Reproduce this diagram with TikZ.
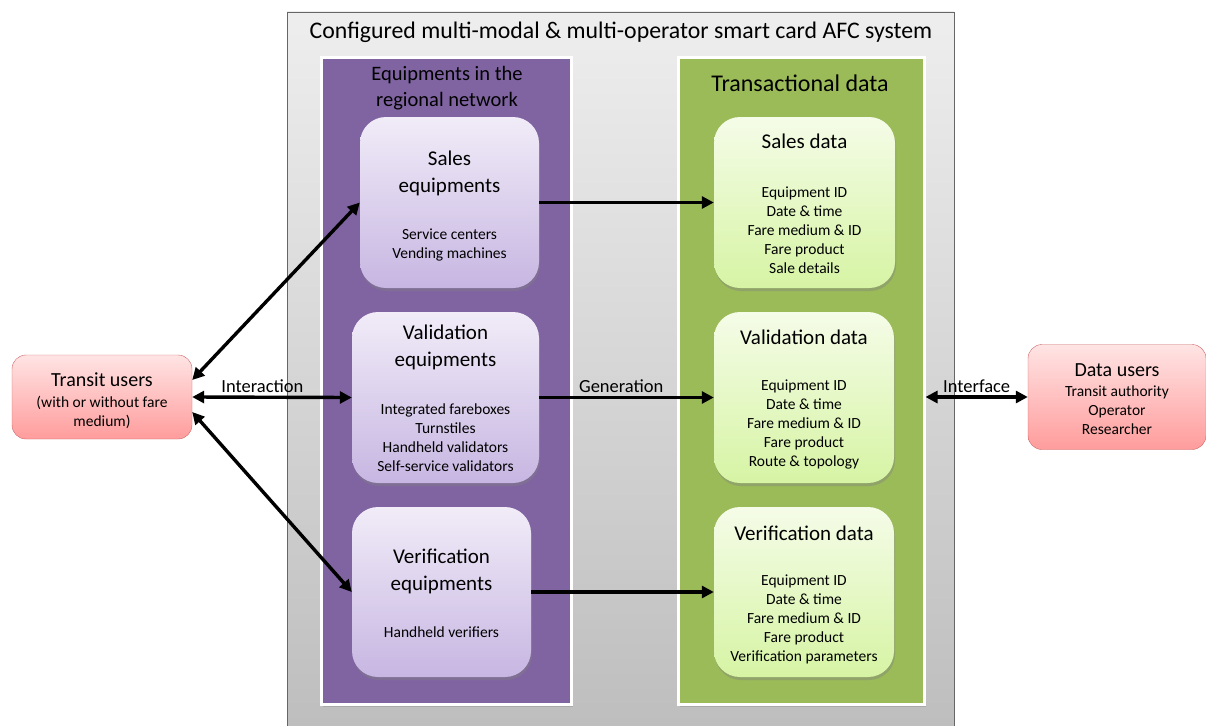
\documentclass[tikz,border=0pt]{standalone}
\usepackage{fontspec}
\setmainfont{Carlito}
\usetikzlibrary{arrows.meta,shadows}

\definecolor{outertop}{HTML}{EEEEEE}
\definecolor{outerbot}{HTML}{BDBDBD}
\definecolor{panelpurple}{HTML}{8064A2}
\definecolor{panelgreen}{HTML}{9BBB59}
\definecolor{eqtop}{HTML}{F1ECF8}
\definecolor{eqbot}{HTML}{C7B6E2}
\definecolor{datatop}{HTML}{F5FCE8}
\definecolor{databot}{HTML}{D6F4A4}
\definecolor{usertop}{HTML}{FFE4E4}
\definecolor{userbot}{HTML}{FF9C9C}
\definecolor{userline}{HTML}{CC6666}

\begin{document}
\begin{tikzpicture}[x=1pt, y=-1pt,
    panel/.style={draw=white, line width=3pt, inner sep=0pt,
      drop shadow={shadow xshift=1.5pt, shadow yshift=-2.5pt, opacity=0.35}},
    eqbox/.style={rounded corners=26pt, top color=eqtop, bottom color=eqbot,
      inner sep=0pt, drop shadow={shadow xshift=1pt, shadow yshift=-3pt, opacity=0.4}},
    databox/.style={eqbox, top color=datatop, bottom color=databot},
    userbox/.style={rounded corners=14pt, draw=userline, thin, top color=usertop,
      bottom color=userbot, inner sep=0pt},
    boxtitle/.style={align=center, font=\fontsize{21}{27}\selectfont},
    boxitems/.style={align=center, font=\fontsize{15.5}{19}\selectfont},
    link/.style={line width=3.4pt, {Triangle[length=12pt,width=12pt]}-{Triangle[length=12pt,width=12pt]}},
    flow/.style={line width=3.4pt, -{Triangle[length=12pt,width=12pt]}},
    linklabel/.style={above, inner sep=3pt, font=\fontsize{18.5}{21}\selectfont}]

  \useasboundingbox (0,0) rectangle (1206,725);

  % outer system frame
  \draw[draw=black!60, top color=outertop, bottom color=outerbot] (287,12) rectangle (954,740);
  \node[font=\fontsize{23.8}{28}\selectfont] (systitle) at (621,32)
    {Configured multi-modal \& multi-operator smart card AFC system};

  % the two panels
  \node[panel, fill=panelpurple, minimum width=250pt, minimum height=646pt] (eqpanel) at (446,381) {};
  \node[panel, fill=panelgreen, minimum width=246pt, minimum height=646pt] (datapanel) at (801,381) {};
  \node[align=center, font=\fontsize{20.5}{26}\selectfont] (eqhead) at (447,88) {Equipments in the\\regional network};
  \node[font=\fontsize{24}{28}\selectfont] (datahead) at (800,83) {Transactional data};

  % equipments
  \node[eqbox, minimum width=179pt, minimum height=171pt] (saleq) at (449.5,202.5) {};
  \node[boxtitle] at ([yshift=-56.5pt]saleq.north) {Sales\\equipments};
  \node[boxitems] at ([yshift=-128pt]saleq.north) {Service centers\\Vending machines};

  \node[eqbox, minimum width=187pt, minimum height=171pt] (valeq) at (445.5,397.5) {};
  \node[boxtitle] at ([yshift=-35.5pt]valeq.north) {Validation\\equipments};
  \node[boxitems] at ([yshift=-126pt]valeq.north)
    {Integrated fareboxes\\Turnstiles\\Handheld validators\\Self-service validators};

  \node[eqbox, minimum width=179pt, minimum height=170pt] (vereq) at (441.5,592) {};
  \node[boxtitle] at ([yshift=-64.5pt]vereq.north) {Verification\\equipments};
  \node[boxitems] at ([yshift=-125pt]vereq.north) {Handheld verifiers};

  % transactional data
  \node[databox, minimum width=181pt, minimum height=171pt] (saldata) at (804.5,202.5) {};
  \node[boxtitle] at ([yshift=-24.5pt]saldata.north) {Sales data};
  \node[boxitems] at ([yshift=-113pt]saldata.north)
    {Equipment ID\\Date \& time\\Fare medium \& ID\\Fare product\\Sale details};

  \node[databox, minimum width=180pt, minimum height=171pt] (valdata) at (804,397.5) {};
  \node[boxtitle] at ([yshift=-25.5pt]valdata.north) {Validation data};
  \node[boxitems] at ([yshift=-113pt]valdata.north)
    {Equipment ID\\Date \& time\\Fare medium \& ID\\Fare product\\Route \& topology};

  \node[databox, minimum width=180pt, minimum height=170pt] (verdata) at (804,592) {};
  \node[boxtitle] at ([yshift=-26pt]verdata.north) {Verification data};
  \node[boxitems] at ([yshift=-113pt]verdata.north)
    {Equipment ID\\Date \& time\\Fare medium \& ID\\Fare product\\Verification parameters};

  % users
  \node[userbox, minimum width=180pt, minimum height=84pt] (tu) at (102,397) {};
  \node[font=\fontsize{20}{23}\selectfont] at ([yshift=17pt]tu.center) {Transit users};
  \node[boxitems] at ([yshift=-15.5pt]tu.center) {(with or without fare\\medium)};

  \node[userbox, minimum width=178pt, minimum height=105pt] (du) at (1117,397) {};
  \node[font=\fontsize{20}{23}\selectfont] at ([yshift=27pt]du.center) {Data users};
  \node[boxitems] at ([yshift=-13.5pt]du.center) {Transit authority\\Operator\\Researcher};

  % connectors
  \draw[link] ([yshift=17pt]tu.east) -- (saleq.west);
  \draw[link] (tu.east) -- node[linklabel, pos=0.44] {Interaction} (valeq.west);
  \draw[link] ([yshift=-15pt]tu.east) -- (vereq.west);

  \draw[flow] (saleq.east) -- (saldata.west);
  \draw[flow] (valeq.east) -- node[linklabel, pos=0.47] {Generation} (valdata.west);
  \draw[flow] (vereq.east) -- (verdata.west);

  \draw[link] (datapanel.east |- du.west) -- node[linklabel] {Interface} (du.west);
\end{tikzpicture}
\end{document}
